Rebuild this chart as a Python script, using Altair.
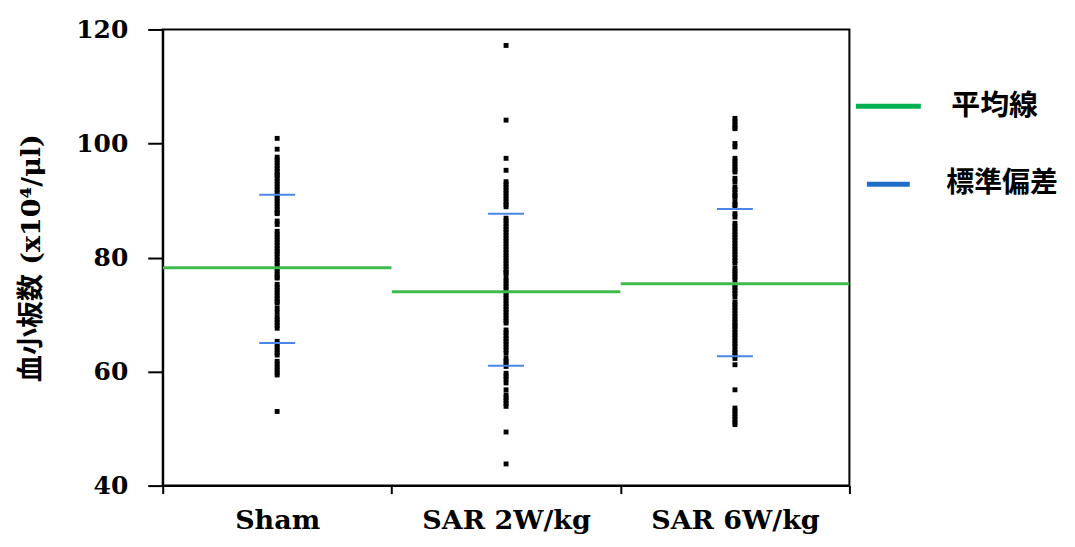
import altair as alt
import pandas as pd

groups = ["Sham", "SAR 2W/kg", "SAR 6W/kg"]

sham_vals = [100.9, 99.0,
             97.6, 97.1, 96.6, 96.1, 95.6, 95.1, 94.6, 94.4,
             93.9, 93.4, 92.9,
             92.4, 91.9, 91.4, 90.9, 90.4, 89.9, 89.4, 88.9, 88.4, 87.9, 87.7,
             86.4, 85.8,
             84.6, 84.1, 83.6, 83.1, 82.6, 82.1, 81.6, 81.1, 80.7,
             80.1, 79.6, 79.1, 78.6, 78.1, 77.6, 77.1, 76.6, 76.4,
             75.3, 74.8, 74.3, 73.8, 73.3, 72.8, 72.3, 72.0,
             71.1, 70.4,
             69.6, 69.1, 68.6, 68.1, 67.6,
             65.3, 64.8, 64.3, 63.8, 63.3, 62.9,
             61.8, 61.3, 60.8, 60.3, 59.8, 59.4,
             53.0]

sar2_vals = [117.2, 104.1, 97.4, 95.3,
             93.3, 92.8, 92.3, 91.8, 91.3, 90.8, 90.3, 89.8, 89.3, 88.9,
             86.9, 86.4, 85.9, 85.4, 84.9, 84.4, 83.9, 83.4, 82.9, 82.4, 81.9,
             81.4, 80.9, 80.4, 79.9, 79.4, 78.9, 78.4, 77.9, 77.4, 77.2,
             76.4, 75.9, 75.4, 74.9, 74.4, 73.9, 73.4, 72.9, 72.4, 71.9, 71.4,
             70.9, 70.4, 69.9, 69.4, 68.9, 68.5,
             67.3, 66.8, 66.3, 65.8, 65.3, 64.8, 64.3, 63.8, 63.2,
             62.3, 61.8, 61.3, 60.9,
             59.7, 59.2, 58.7, 58.0,
             56.8,
             55.9, 55.4, 54.9, 54.4, 53.9,
             49.4, 43.8]

sar6_vals = [104.4, 103.9, 103.4, 102.9, 102.6,
             100.0, 99.4,
             97.4, 96.9, 96.4, 95.9, 95.4, 95.0,
             93.9, 93.3,
             92.4, 91.9, 91.4, 90.9, 90.6,
             89.8, 89.3, 88.9,
             87.7, 87.1,
             86.0, 85.5, 85.0, 84.5, 84.0, 83.5, 83.0, 82.5, 82.0, 81.5, 81.0,
             80.5, 80.0, 79.5, 79.0,
             78.1, 77.6, 77.1, 76.6, 76.1,
             75.2, 74.7, 74.2, 73.7, 73.1,
             72.2, 71.7, 71.2, 70.7, 70.2, 69.7, 69.2, 68.7, 68.2, 67.9,
             67.4, 66.9, 66.4, 65.9, 65.4, 64.9, 64.4,
             63.8, 63.3, 62.8, 62.3,
             61.2,
             56.8,
             53.6, 53.1, 52.6, 52.1, 51.6, 51.1, 50.7]

means = [78.2, 74.0, 75.4]
sd_upper = [91.0, 87.7, 88.5]
sd_lower = [65.0, 61.0, 62.7]

mean_label = "平均線"
sd_label = "標準偏差"

green = "#3fba4f"
blue = "#4a86e8"

dots = pd.DataFrame(
    [{"group": groups[0], "value": v} for v in sham_vals]
    + [{"group": groups[1], "value": v} for v in sar2_vals]
    + [{"group": groups[2], "value": v} for v in sar6_vals]
)
mean_df = pd.DataFrame({"group": groups, "value": means, "label": [mean_label] * 3})
sd_df = pd.DataFrame({
    "group": groups * 2,
    "value": sd_upper + sd_lower,
    "label": [sd_label] * 6,
})

W, H = 688, 457

x_enc = alt.X(
    "group:N",
    sort=groups,
    scale=alt.Scale(domain=groups, paddingInner=0, paddingOuter=0),
    axis=alt.Axis(
        title=None, labelAngle=0, tickBand="extent", tickSize=8, tickWidth=2,
        tickColor="black", domainColor="black", domainWidth=2,
        labelFont="DejaVu Serif", labelFontWeight="bold", labelFontSize=27,
        labelColor="black", labelPadding=14,
    ),
)
y_scale = alt.Scale(domain=[40, 120], nice=False, zero=False)
y_enc = alt.Y(
    "value:Q",
    scale=y_scale,
    axis=alt.Axis(
        values=[40, 60, 80, 100, 120], grid=False, tickSize=15, tickWidth=2,
        tickColor="black", domainColor="black", domainWidth=2,
        labelFont="DejaVu Serif", labelFontWeight="bold", labelFontSize=25,
        labelColor="black", labelPadding=20,
        title="血小板数 (x10⁴/μl)", titleFont="DejaVu Serif, Noto Sans CJK JP",
        titleFontWeight="bold", titleFontSize=27, titleColor="black",
        titlePadding=30,
    ),
)

dot_layer = alt.Chart(dots).mark_square(size=24, color="black", opacity=1).encode(
    x=x_enc, y=y_enc
)

mean_layer = alt.Chart(mean_df).mark_tick(size=229, thickness=3, opacity=1).encode(
    x=x_enc,
    y=alt.Y("value:Q", scale=y_scale),
    color=alt.Color(
        "label:N",
        scale=alt.Scale(domain=[mean_label], range=[green]),
        legend=alt.Legend(
            title=None, orient="none", legendX=692, legendY=42, padding=0,
            symbolType="stroke", symbolSize=4225, symbolStrokeWidth=5,
            symbolStrokeColor="#00b050", labelOffset=28,
            labelFont="Noto Sans CJK JP", labelFontWeight="bold",
            labelFontSize=29, labelColor="black",
        ),
    ),
)

sd_layer = alt.Chart(sd_df).mark_tick(size=36, thickness=2, opacity=1).encode(
    x=x_enc,
    y=alt.Y("value:Q", scale=y_scale),
    color=alt.Color(
        "label:N",
        scale=alt.Scale(domain=[sd_label], range=[blue]),
        legend=alt.Legend(
            title=None, orient="none", legendX=703, legendY=131, padding=0,
            symbolType="stroke", symbolSize=1849, symbolStrokeWidth=5,
            symbolStrokeColor="#1f6fc8", labelOffset=34,
            labelFont="Noto Sans CJK JP", labelFontWeight="bold",
            labelFontSize=28, labelColor="black",
        ),
    ),
)

chart = (
    alt.layer(dot_layer, mean_layer, sd_layer)
    .resolve_scale(color="independent")
    .properties(
        width=W, height=H,
        background="white",
        autosize=alt.AutoSizeParams(type="none"),
        padding={"left": 155, "top": 21, "right": 218, "bottom": 55},
    )
    .configure_view(stroke="black", strokeWidth=2)
)

chart.save("out.html", embed_options={"renderer": "svg", "actions": False})
